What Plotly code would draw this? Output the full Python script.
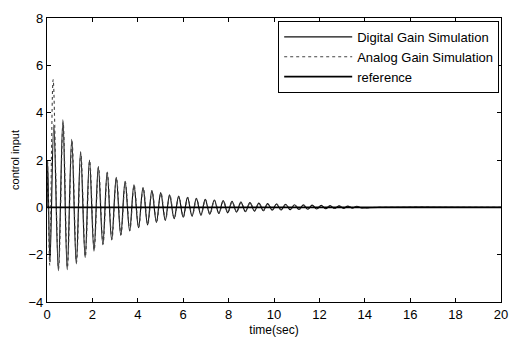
import plotly.graph_objects as go

# Digital gain simulation: extrema (time s, value)
digital_time = [0, 0.03, 0.13, 0.30, 0.50, 0.70, 0.89, 1.09, 1.29, 1.48, 1.68, 1.87, 2.07, 2.26, 2.46,
                2.65, 2.85, 3.05, 3.25, 3.44, 3.64, 3.83, 4.03, 4.23, 4.43, 4.62, 4.82, 5.01, 5.21,
                5.40, 5.60, 5.80, 6.00, 6.19, 6.39, 6.58, 6.78, 6.97, 7.17, 7.37, 7.57, 7.76, 7.96,
                8.15, 8.35, 8.54, 8.74, 8.94, 9.14, 9.33, 9.53, 9.72, 9.92, 10.11, 10.31, 10.51,
                10.71, 10.90, 11.10, 11.29, 11.49, 11.68, 11.88, 12.08, 12.28, 12.47, 12.67, 12.86,
                13.06, 13.25, 13.45, 13.65, 13.85, 14.6, 20]
digital_value = [0, 1.9, -2.3, 3.5, -2.68, 3.7, -2.63, 2.87, -2.39, 2.36, -2.12, 2.0, -1.85, 1.72, -1.58,
                 1.49, -1.38, 1.27, -1.18, 1.10, -1.0, 0.95, -0.86, 0.83, -0.74, 0.71, -0.64, 0.62, -0.55,
                 0.53, -0.48, 0.47, -0.42, 0.42, -0.37, 0.38, -0.33, 0.34, -0.29, 0.31, -0.26, 0.28, -0.23,
                 0.25, -0.20, 0.22, -0.18, 0.20, -0.16, 0.18, -0.14, 0.16, -0.12, 0.14, -0.11, 0.13,
                 -0.10, 0.11, -0.09, 0.10, -0.08, 0.09, -0.07, 0.08, -0.06, 0.07, -0.05, 0.06,
                 -0.04, 0.05, -0.03, 0.04, -0.02, 0, 0]

# Analog gain simulation
analog_time = [0, 0.02, 0.12, 0.27, 0.51, 0.71, 0.90, 1.10, 1.30, 1.49, 1.69, 1.88, 2.08, 2.27, 2.47,
               2.66, 2.86, 3.06, 3.26, 3.45, 3.65, 3.84, 4.04, 4.24, 4.44, 4.63, 4.83, 5.02, 5.22,
               5.41, 5.61, 5.81, 6.01, 6.20, 6.40, 6.59, 6.79, 6.98, 7.18, 7.38, 7.58, 7.77, 7.97,
               8.16, 8.36, 8.55, 8.75, 8.95, 9.15, 9.34, 9.54, 9.73, 9.93, 10.12, 10.32, 10.52,
               10.72, 10.91, 11.11, 11.30, 11.50, 11.69, 11.89, 12.09, 12.29, 12.48, 12.68, 12.87,
               13.07, 13.26, 13.46, 13.66, 13.86, 14.6, 20]
analog_value = [0, 2.0, -2.45, 5.4, -2.6, 3.6, -2.55, 2.8, -2.33, 2.3, -2.08, 1.97, -1.80, 1.70, -1.55,
                1.46, -1.35, 1.25, -1.16, 1.08, -0.98, 0.93, -0.85, 0.82, -0.73, 0.70, -0.63, 0.61, -0.54,
                0.52, -0.47, 0.46, -0.41, 0.41, -0.36, 0.37, -0.32, 0.33, -0.29, 0.30, -0.25, 0.27, -0.22,
                0.24, -0.20, 0.21, -0.17, 0.19, -0.15, 0.17, -0.14, 0.15, -0.12, 0.14, -0.10, 0.12,
                -0.09, 0.11, -0.08, 0.09, -0.07, 0.08, -0.06, 0.07, -0.05, 0.06, -0.05, 0.05,
                -0.04, 0.04, -0.03, 0.03, -0.02, 0, 0]

# Reference
reference_time = [0, 20]
reference_value = [0, 0]

x_ticks = [0, 2, 4, 6, 8, 10, 12, 14, 16, 18, 20]
y_ticks = [-4, -2, 0, 2, 4, 6, 8]

fig = go.Figure()
fig.add_trace(go.Scatter(x=digital_time, y=digital_value, mode="lines",
                         name="Digital Gain Simulation",
                         line=dict(color="#111111", width=1.2, shape="spline", smoothing=1)))
fig.add_trace(go.Scatter(x=analog_time, y=analog_value, mode="lines",
                         name="Analog Gain Simulation",
                         line=dict(color="#444444", width=1.1, dash="dot", shape="spline", smoothing=1)))
fig.add_trace(go.Scatter(x=reference_time, y=reference_value, mode="lines",
                         name="reference",
                         line=dict(color="black", width=1.8)))

axis_common = dict(showline=True, linecolor="black", linewidth=1.2, mirror="ticks",
                   ticks="inside", ticklen=4, tickcolor="black", showgrid=False,
                   zeroline=False, tickfont=dict(family="Arial", size=13, color="black"))

fig.update_layout(
    width=519, height=345,
    margin=dict(l=47, r=11, t=14, b=34),
    paper_bgcolor="white", plot_bgcolor="white",
    font=dict(family="Arial", color="black"),
    xaxis=dict(range=[0, 20], tickvals=x_ticks, **axis_common,
               title=dict(text="time(sec)", font=dict(size=12), standoff=4)),
    yaxis=dict(range=[-4, 8], tickvals=y_ticks, **axis_common,
               title=dict(text="control input", font=dict(size=11), standoff=6)),
    legend=dict(x=0.996, y=0.99, xanchor="right", yanchor="top",
                bordercolor="black", borderwidth=1, bgcolor="white",
                font=dict(family="Arial", size=13), tracegroupgap=0,
                itemwidth=68),
    showlegend=True,
)

fig.write_html("out.html")
